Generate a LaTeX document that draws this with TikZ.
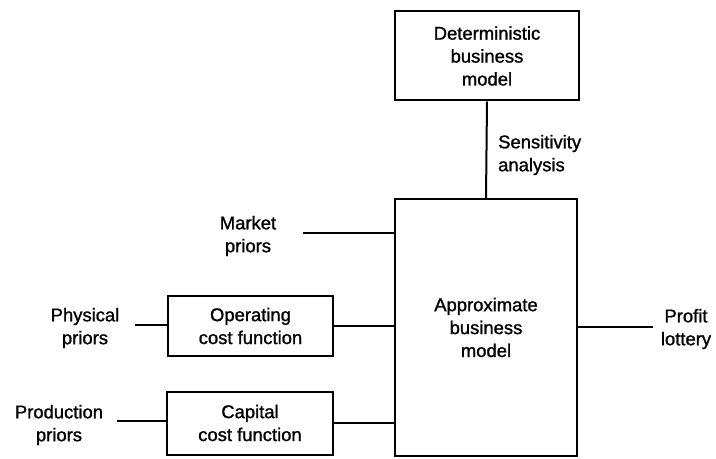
\documentclass[tikz,border=0pt]{standalone}
\usepackage{fontspec}
\setmainfont{Liberation Sans}[BoldFont={Liberation Sans}, BoldFeatures={FakeBold=1.2}]
\usepackage{tikz}

\tikzset{
  block/.style={draw, line width=2bp, align=center, inner sep=0pt},
  lbl/.style={align=center, inner sep=0pt},
  wire/.style={line width=2bp}
}

\begin{document}
\begin{tikzpicture}[x=1bp, y=-1bp, font=\fontsize{18.5}{23}\selectfont\bfseries]
				\useasboundingbox (0,0) rectangle (716,459);
				% boxes
				\node[block, minimum width=184bp, minimum height=89bp] (det) at (487,56) {Deterministic\\business\\model};
				\node[block, minimum width=182bp, minimum height=257bp] (approx) at (486,327.5) {Approximate\\business\\model};
				\node[block, minimum width=165bp, minimum height=59bp] (oper) at (250.5,326) {Operating\\cost function};
				\node[block, minimum width=166bp, minimum height=63bp] (cap) at (250,423) {Capital\\cost function};
				
				% labels
				\node[lbl] (market) at (248,236) {Market\\priors};
				\node[lbl] (phys) at (85,328) {Physical\\priors};
				\node[lbl] (prod) at (59,425) {Production\\priors};
				\node[lbl, align=left, anchor=west] (sens) at (498,155) {Sensitivity\\analysis};
				\node[lbl] (profit) at (686,329) {Profit\\lottery};
				
				\coordinate (m) at (303,233);
				\coordinate (p) at (135,325);
				\coordinate (q) at (117,421);
				\coordinate (r) at (653,327);
				
				\draw[wire] (det.south) -- (approx.north);
				\draw[wire] (m) -- (m -| approx.west);
				\draw[wire] (p) -- (p -| oper.west);
				\draw[wire] (oper.east) -- (oper.east -| approx.west);
				\draw[wire] (q) -- (q -| cap.west);
				\draw[wire] (cap.east) -- (cap.east -| approx.west);
				\draw[wire] (r) -- (r -| approx.east);
			\end{tikzpicture}
\end{document}
